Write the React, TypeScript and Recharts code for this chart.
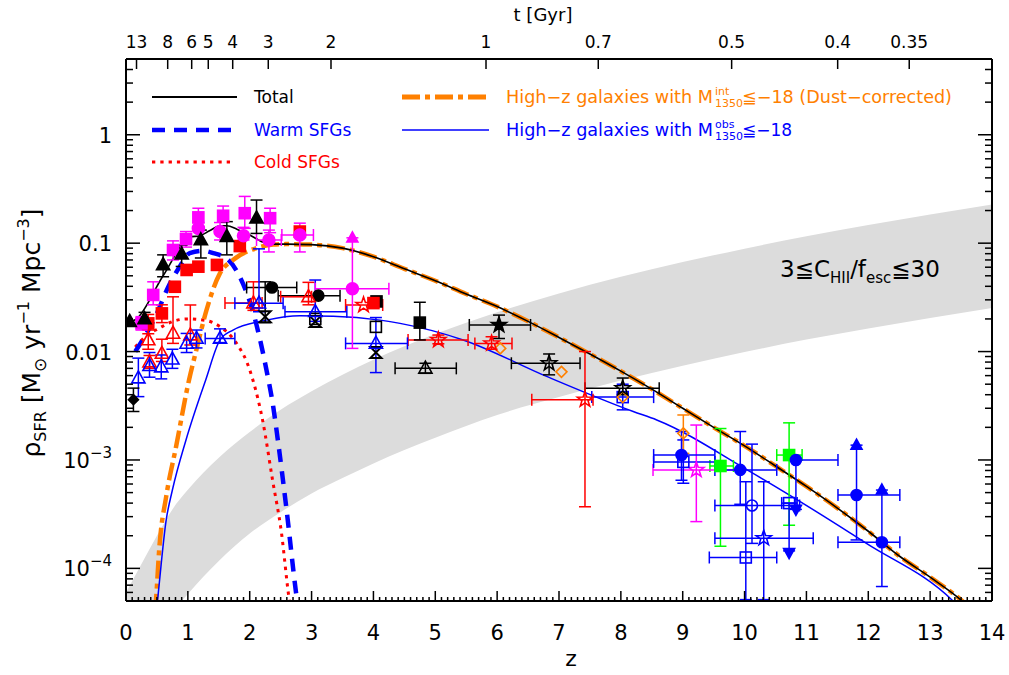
import React from 'react';
import { ComposedChart, XAxis, YAxis, Line, Area, Scatter, ErrorBar } from 'recharts';

const FONT = '"DejaVu Sans", Verdana, sans-serif';
const MAG = '#ff00ff';
const RED = '#ff0000';
const BLUE = '#0000ff';
const BLK = '#000000';
const ORG = '#ff8000';
const GRN = '#00ff00';

// ---- gray band 3 <= C_HII/f_esc <= 30 ----
const bandZ = [0, 0.25, 0.5, 0.75, 1, 1.5, 2, 2.5, 3, 3.5, 4, 5, 6, 7, 8, 9, 10, 11, 12, 13, 14];
const bandHigh = [6.0e-5, 1.1e-4, 2.0e-4, 3.5e-4, 5.3e-4, 1.05e-3, 1.81e-3, 2.9e-3, 4.3e-3, 6.1e-3, 8.4e-3, 0.0145, 0.023, 0.0344, 0.049, 0.067, 0.089, 0.116, 0.147, 0.184, 0.227];
const bandLow = [6.6e-6, 1.3e-5, 2.3e-5, 3.9e-5, 5.8e-5, 1.17e-4, 2.1e-4, 3.3e-4, 4.9e-4, 6.8e-4, 9.3e-4, 1.6e-3, 2.6e-3, 3.8e-3, 5.4e-3, 7.4e-3, 9.9e-3, 0.0129, 0.0163, 0.0204, 0.0252];

// ---- model curves ----
const totalZ = [0.05, 0.17, 0.6, 1.06, 1.17, 1.35, 1.52, 1.63, 1.8, 2.0, 2.22, 2.38, 2.6, 3.0, 3.5, 4.0, 4.5, 5.0, 5.5, 6.0, 6.5, 7.0, 7.5, 8.0, 8.5, 9.0, 9.5, 10.0, 10.5, 11.0, 11.5, 12.0, 12.5, 13.0, 13.5, 13.7];
const totalV = [0.0185, 0.020, 0.050, 0.115, 0.116, 0.13, 0.145, 0.145, 0.134, 0.119, 0.102, 0.098, 0.098, 0.097, 0.090, 0.075, 0.058, 0.045, 0.034, 0.026, 0.019, 0.0135, 0.0095, 0.0066, 0.0045, 0.0030, 0.0020, 0.00135, 0.00088, 0.00057, 0.00036, 0.00022, 0.00013, 8.3e-5, 5.1e-5, 4.0e-5];

const dustZ = [0.47, 0.485, 0.54, 0.65, 0.81, 1.02, 1.14, 1.30, 1.52, 1.73, 2.11, 2.38, 2.6, 3.0, 3.5, 4.0, 4.5, 5.0, 5.5, 6.0, 6.5, 7.0, 7.5, 8.0, 8.5, 9.0, 9.5, 10.0, 10.5, 11.0, 11.5, 12.0, 12.5, 13.0, 13.5, 13.7];
const dustV = [4.0e-5, 5.1e-5, 1.58e-4, 4.6e-4, 1.33e-3, 5.5e-3, 0.0105, 0.024, 0.053, 0.070, 0.090, 0.097, 0.098, 0.097, 0.090, 0.075, 0.058, 0.045, 0.034, 0.026, 0.019, 0.0135, 0.0095, 0.0066, 0.0045, 0.0030, 0.0020, 0.00135, 0.00088, 0.00057, 0.00036, 0.00022, 0.00013, 8.3e-5, 5.1e-5, 4.0e-5];

const warmZ = [0.15, 0.5, 0.66, 0.87, 1.03, 1.25, 1.41, 1.63, 1.84, 2.06, 2.27, 2.38, 2.45, 2.59, 2.75, 2.79];
const warmV = [0.010, 0.0225, 0.037, 0.061, 0.081, 0.085, 0.081, 0.072, 0.049, 0.0225, 0.0068, 0.0031, 0.0016, 3.7e-4, 5.9e-5, 4.0e-5];

const coldZ = [0.15, 0.36, 0.5, 0.76, 0.98, 1.30, 1.52, 1.73, 1.84, 1.95, 2.05, 2.21, 2.37, 2.51, 2.64, 2.67];
const coldV = [0.011, 0.0145, 0.016, 0.019, 0.020, 0.0193, 0.017, 0.0132, 0.0107, 0.0081, 0.0055, 0.0023, 6.5e-4, 2.2e-4, 5.1e-5, 4.0e-5];

const obsZ = [0.49, 0.51, 0.65, 0.75, 0.97, 1.29, 1.52, 1.73, 2.27, 2.81, 3.35, 4.11, 4.43, 5.45, 6.80, 8.2, 8.58, 10.09, 11.97, 13.37, 13.45];
const obsV = [4.0e-5, 5.1e-5, 2.8e-4, 5.28e-4, 1.53e-3, 5.5e-3, 0.0128, 0.0158, 0.0195, 0.0214, 0.0212, 0.0195, 0.0182, 0.0128, 0.0059, 0.0028, 0.00234, 7.8e-4, 1.7e-4, 5.0e-5, 4.5e-5];

// ---- observational points: [z, rho, zLow, zHigh, rhoLow, rhoHigh] ----
type Row = (number | null)[];
const magentaSquares: Row[] = [
  [0.25, 0.0182, null, null, 0.0158, 0.021],
  [0.44, 0.0333, null, null, 0.027, 0.044],
  [0.76, 0.0865, null, null, 0.070, 0.105],
  [0.97, 0.109, null, null, 0.092, 0.128],
  [1.17, 0.173, null, null, 0.155, 0.21],
  [1.57, 0.179, null, null, 0.157, 0.22],
  [1.92, 0.189, null, null, 0.137, 0.27],
  [2.33, 0.170, null, null, 0.125, 0.21],
];
const magentaCircles: Row[] = [
  [1.17, 0.137, null, null, 0.128, 0.155],
  [1.52, 0.128, null, null, 0.107, 0.155],
  [1.90, 0.117, null, null, 0.107, 0.14],
  [2.31, 0.107, 2.11, 2.51, 0.083, 0.132],
  [2.81, 0.119, 2.52, 3.03, 0.083, 0.153],
  [3.66, 0.038, 3.06, 4.25, 0.0107, 0.112],
];
const magentaStars: Row[] = [[9.22, 8.1e-4, 8.52, 9.93, 2.7e-4, 0.0021]];
const magentaArrowUp: Row[] = [[3.66, 0.112]];

const redSquares: Row[] = [
  [0.36, 0.0182, null, null, 0.0146, 0.022],
  [0.58, 0.0225, null, null, 0.0185, 0.027],
  [0.79, 0.0396], [0.98, 0.0566], [1.17, 0.0607], [1.47, 0.063], [1.84, 0.094], [2.81, 0.128], [4.0, 0.028],
];
const redTriangles: Row[] = [
  [0.36, 0.0128, null, null, 0.0105, 0.0158],
  [0.38, 0.0080, null, null, 0.0070, 0.0092],
  [0.58, 0.0096, null, null, 0.0081, 0.013],
  [0.76, 0.0147, null, null, 0.0119, 0.032],
  [1.04, 0.0142, null, null, 0.0115, 0.0269],
  [2.06, 0.028, 1.6, 2.2, 0.024, 0.044],
  [2.95, 0.032, 2.5, 3.0, 0.027, 0.0435],
];
const redStars: Row[] = [
  [3.84, 0.0269, 3.55, 4.15, null, null],
  [5.05, 0.0128, 4.56, 5.53, 0.0118, 0.0142],
  [5.91, 0.0119, 5.64, 6.24, 0.0105, 0.0137],
  [7.42, 0.0036, 6.56, 7.55, 3.7e-4, 0.0100],
];

const blackTriangles: Row[] = [
  [0.06, 0.0189],
  [0.30, 0.020, null, null, 0.0175, 0.023],
  [0.60, 0.063, null, null, 0.049, 0.078],
  [0.90, 0.079, null, null, 0.061, 0.096],
  [1.21, 0.107, null, null, 0.073, 0.132],
  [1.63, 0.115, null, null, 0.078, 0.158],
  [2.11, 0.170, null, null, 0.123, 0.25],
];
const blackDiamonds: Row[] = [[0.12, 0.0036, null, null, 0.0028, 0.0046]];
const blackCircles: Row[] = [[2.36, 0.039, 1.95, 2.76], [3.11, 0.0328, 2.46, 3.46]];
const blackSquares: Row[] = [[4.05, 0.029], [4.75, 0.0185, null, null, 0.0128, 0.0285]];
const blackStarsFilled: Row[] = [[6.03, 0.0176, 5.55, 6.54, 0.0132, 0.0217]];
const blackTrianglesOpen: Row[] = [[4.84, 0.0070, 4.35, 5.34, 0.0063, 0.0078]];
const blackStarsOpen: Row[] = [[6.84, 0.0078, 6.23, 7.34, 0.0061, 0.0095], [8.03, 0.0046, 7.42, 8.62, 0.0040, 0.0057]];
const blackSquaresOpen: Row[] = [[3.06, 0.0200], [4.04, 0.0169]];
const blackHourglass: Row[] = [[2.25, 0.021, null, null, 0.0185, 0.044], [3.06, 0.0189], [4.04, 0.0098]];

const orangeDiamonds: Row[] = [[6.05, 0.0107], [7.04, 0.0065], [8.03, 0.0038], [9.01, 0.00176, null, null, 0.00115, 0.0026]];

const blueTriangles: Row[] = [
  [0.20, 0.0057, null, null, 0.00384, 0.0087],
  [0.38, 0.0074, null, null, 0.0058, 0.0098],
  [0.57, 0.0072, null, null, 0.0056, 0.0093],
  [0.75, 0.0085, null, null, 0.0070, 0.0105],
  [0.98, 0.0119, null, null, 0.0098, 0.0147],
  [1.14, 0.0132, null, null, 0.0108, 0.0158],
  [1.52, 0.0132, 1.28, 1.76, 0.0121, 0.0162],
  [2.15, 0.0279, 1.76, 2.54, 0.0233, 0.0886],
  [3.06, 0.0233, 2.57, 3.57, 0.019, 0.0457],
  [4.04, 0.0119, 3.55, 4.55, 0.0064, 0.0206],
];
const blueCircles: Row[] = [
  [8.98, 0.00111, 8.53, 9.52, 6.5e-4, 0.00183],
  [9.93, 8.1e-4, 9.52, 10.52, 3.9e-4, 0.00183],
  [10.83, 0.0010, 10.83, 11.51, 3.5e-4, null],
  [11.81, 4.75e-4, 11.51, 12.51, 1.83e-4, 0.00137],
  [12.22, 1.74e-4, 11.51, 12.51, 6.8e-5, 5.28e-4],
];
const blueSquaresOpen: Row[] = [
  [8.03, 0.0038, 7.53, 8.53, 0.0029, 0.0050],
  [9.01, 9.6e-4, 8.53, 9.52, 6.1e-4, 0.00153],
  [10.02, 1.26e-4, 9.43, 10.52, 5.15e-5, 6.3e-4],
  [10.72, 4.0e-4, 10.6, 10.85, 1.45e-4, null],
];
const blueCirclesOpen: Row[] = [[10.12, 3.8e-4, 9.52, 10.89, 1.7e-4, 0.0014]];
const blueStarsOpen: Row[] = [[10.31, 1.9e-4, 9.52, 11.11, 5.15e-5, 6.3e-4]];
const blueArrowUp: Row[] = [[11.81, 0.00137], [12.22, 5.28e-4]];
const blueArrowDown: Row[] = [[10.83, 3.5e-4], [10.72, 1.4e-4]];

const greenSquares: Row[] = [
  [9.61, 8.8e-4, 9.44, 9.82, 1.6e-4, 0.00195],
  [10.72, 0.00111, 10.52, 10.93, 2.5e-4, 0.0022],
];

// ---- axes ticks ----
const xMajorTicks = [0, 1, 2, 3, 4, 5, 6, 7, 8, 9, 10, 11, 12, 13, 14];
const xAllTicks: number[] = [];
for (let i = 0; i <= 140; i++) xAllTicks.push(i / 10);
const topTickZ = [0.17, 0.674, 1.062, 1.33, 1.725, 2.3, 3.314, 5.82, 7.635, 9.791, 11.505, 12.662];
const topTickLabels = ['13', '8', '6', '5', '4', '3', '2', '1', '0.7', '0.5', '0.4', '0.35'];
const yTicks: number[] = [];
for (let k = -5; k <= 0; k++) {
  for (let m = 1; m <= 9; m++) {
    const v = Number((m * Math.pow(10, k)).toPrecision(6));
    if (v > 5.0001e-5 && v < 4.9999) yTicks.push(v);
  }
}

// ---- build tables ----
const zip = (zs: number[], vs: number[]) => zs.map((z, i) => ({ z, v: vs[i] }));
const bandData = bandZ.map((z, i) => ({ z, band: [bandLow[i], bandHigh[i]] }));
const toPts = (rows: Row[]) =>
  rows.map((r) => {
    const z = r[0] as number;
    const v = r[1] as number;
    const zl = r[2] ?? null;
    const zh = r[3] ?? null;
    const rl = r[4] ?? null;
    const rh = r[5] ?? null;
    return {
      z,
      rho: v,
      ex: zl != null && zh != null ? [z - zl, zh - z] : null,
      ey: rl != null || rh != null ? [rl != null ? v - rl : 0, rh != null ? rh - v : 0] : null,
    };
  });

type Kind = 'square' | 'circle' | 'triangle' | 'tridown' | 'diamond' | 'star' | 'hourglass';

function Marker({ cx, cy, kind, color, filled, s }: { cx: number; cy: number; kind: Kind; color: string; filled: boolean; s: number }) {
  if (cx == null || cy == null || isNaN(cx) || isNaN(cy)) return <g />;
  const fill = filled ? color : 'none';
  const sw = 1.6;
  if (kind === 'square') return <rect x={cx - s / 2} y={cy - s / 2} width={s} height={s} fill={fill} stroke={color} strokeWidth={sw} />;
  if (kind === 'circle') return <circle cx={cx} cy={cy} r={s / 2} fill={fill} stroke={color} strokeWidth={sw} />;
  if (kind === 'triangle')
    return <polygon points={`${cx},${cy - s * 0.6} ${cx + s * 0.55},${cy + s * 0.4} ${cx - s * 0.55},${cy + s * 0.4}`} fill={fill} stroke={color} strokeWidth={sw} />;
  if (kind === 'tridown')
    return <polygon points={`${cx},${cy + s * 0.6} ${cx + s * 0.55},${cy - s * 0.4} ${cx - s * 0.55},${cy - s * 0.4}`} fill={fill} stroke={color} strokeWidth={sw} />;
  if (kind === 'diamond')
    return <polygon points={`${cx},${cy - s / 2} ${cx + s / 2},${cy} ${cx},${cy + s / 2} ${cx - s / 2},${cy}`} fill={fill} stroke={color} strokeWidth={sw} />;
  if (kind === 'star') {
    const pts: string[] = [];
    for (let i = 0; i < 10; i++) {
      const a = ((-90 + i * 36) * Math.PI) / 180;
      const r = i % 2 === 0 ? s / 2 : s * 0.2;
      pts.push(`${cx + r * Math.cos(a)},${cy + r * Math.sin(a)}`);
    }
    return <polygon points={pts.join(' ')} fill={fill} stroke={color} strokeWidth={sw} />;
  }
  const h = s / 2;
  return <path d={`M${cx - h},${cy - h} L${cx + h},${cy - h} L${cx - h},${cy + h} L${cx + h},${cy + h} Z`} fill="none" stroke={color} strokeWidth={2} />;
}

const pointSets: { rows: Row[]; kind: Kind; color: string; filled: boolean; s: number }[] = [
  { rows: greenSquares, kind: 'square', color: GRN, filled: true, s: 11 },
  { rows: magentaStars, kind: 'star', color: MAG, filled: false, s: 16 },
  { rows: blueCirclesOpen, kind: 'circle', color: BLUE, filled: false, s: 11 },
  { rows: blueStarsOpen, kind: 'star', color: BLUE, filled: false, s: 16 },
  { rows: blueSquaresOpen, kind: 'square', color: BLUE, filled: false, s: 11 },
  { rows: blueCircles, kind: 'circle', color: BLUE, filled: true, s: 11 },
  { rows: blueArrowUp, kind: 'triangle', color: BLUE, filled: true, s: 10 },
  { rows: blueArrowDown, kind: 'tridown', color: BLUE, filled: true, s: 10 },
  { rows: orangeDiamonds, kind: 'diamond', color: ORG, filled: false, s: 11 },
  { rows: blackStarsOpen, kind: 'star', color: BLK, filled: false, s: 16 },
  { rows: redStars, kind: 'star', color: RED, filled: false, s: 16 },
  { rows: blackStarsFilled, kind: 'star', color: BLK, filled: true, s: 16 },
  { rows: blackTrianglesOpen, kind: 'triangle', color: BLK, filled: false, s: 12 },
  { rows: blackSquares, kind: 'square', color: BLK, filled: true, s: 11 },
  { rows: blackSquaresOpen, kind: 'square', color: BLK, filled: false, s: 11 },
  { rows: blackHourglass, kind: 'hourglass', color: BLK, filled: false, s: 11 },
  { rows: blackCircles, kind: 'circle', color: BLK, filled: true, s: 11 },
  { rows: redSquares, kind: 'square', color: RED, filled: true, s: 11 },
  { rows: redTriangles, kind: 'triangle', color: RED, filled: false, s: 12 },
  { rows: blueTriangles, kind: 'triangle', color: BLUE, filled: false, s: 12 },
  { rows: magentaSquares, kind: 'square', color: MAG, filled: true, s: 11 },
  { rows: magentaCircles, kind: 'circle', color: MAG, filled: true, s: 12 },
  { rows: magentaArrowUp, kind: 'triangle', color: MAG, filled: true, s: 10 },
  { rows: blackTriangles, kind: 'triangle', color: BLK, filled: true, s: 12 },
  { rows: blackDiamonds, kind: 'diamond', color: BLK, filled: true, s: 10 },
];

// ---- ticks ----
function BottomTick(p: any) {
  const { x, y, payload } = p;
  const v = payload.value;
  const major = Math.abs(v - Math.round(v)) < 1e-6;
  return (
    <g>
      <line x1={x} x2={x} y1={y} y2={y - (major ? 10 : 4)} stroke="#000" strokeWidth={1.5} />
      {major && xMajorTicks.includes(Math.round(v)) && (
        <text x={x} y={y + 39} textAnchor="middle" fontSize={21} fontFamily={FONT} fill="#000">
          {Math.round(v)}
        </text>
      )}
    </g>
  );
}
function TopTick(p: any) {
  const { x, y, payload } = p;
  const idx = topTickZ.indexOf(payload.value);
  return (
    <g>
      <line x1={x} x2={x} y1={y} y2={y + 10} stroke="#000" strokeWidth={1.5} />
      <text x={x} y={y - 11} textAnchor="middle" fontSize={17} fontFamily={FONT} fill="#000">
        {idx >= 0 ? topTickLabels[idx] : ''}
      </text>
    </g>
  );
}
const isDecade = (v: number) => Math.abs(Math.log10(v) - Math.round(Math.log10(v))) < 1e-6;
function LeftTick(p: any) {
  const { x, y, payload } = p;
  const v = payload.value;
  const major = isDecade(v);
  const e = Math.round(Math.log10(v));
  return (
    <g>
      <line x1={x} x2={x + (major ? 14 : 7)} y1={y} y2={y} stroke="#000" strokeWidth={1.5} />
      {major && (
        <text x={x - 14} y={y + 8} textAnchor="end" fontSize={21} fontFamily={FONT} fill="#000">
          {e >= -2 ? (
            String(v)
          ) : (
            <>
              <tspan>10</tspan>
              <tspan dy={-10} fontSize={15}>{`\u2212${-e}`}</tspan>
            </>
          )}
        </text>
      )}
    </g>
  );
}
function RightTick(p: any) {
  const { x, y, payload } = p;
  const major = isDecade(payload.value);
  return <line x1={x} x2={x - (major ? 14 : 7)} y1={y} y2={y} stroke="#000" strokeWidth={1.5} />;
}

const axisLine = { stroke: '#000', strokeWidth: 2 };

export default function App() {
  return (
    <div style={{ position: 'absolute', left: 0, top: 0, width: 1009, height: 675, background: '#fff' }}>
      <ComposedChart width={1009} height={675} margin={{ top: 29, right: 7, bottom: 44, left: 66 }}>
        <XAxis xAxisId="b" type="number" dataKey="z" domain={[0, 14]} ticks={xAllTicks} interval={0} tickSize={0} tickMargin={0} tickLine={false} tick={(p: any) => <BottomTick {...p} />} axisLine={axisLine} height={30} allowDataOverflow />
        <XAxis xAxisId="t" orientation="top" type="number" dataKey="z" domain={[0, 14]} ticks={topTickZ} interval={0} tickSize={0} tickMargin={0} tickLine={false} tick={(p: any) => <TopTick {...p} />} axisLine={axisLine} height={30} allowDataOverflow />
        <YAxis yAxisId="l" type="number" scale="log" domain={[5e-5, 5]} ticks={yTicks} interval={0} tickSize={0} tickMargin={0} tickLine={false} tick={(p: any) => <LeftTick {...p} />} axisLine={axisLine} width={60} allowDataOverflow />
        <YAxis yAxisId="r" orientation="right" type="number" scale="log" domain={[5e-5, 5]} ticks={yTicks} interval={0} tickSize={0} tickMargin={0} tickLine={false} tick={(p: any) => <RightTick {...p} />} axisLine={axisLine} width={10} allowDataOverflow />

        <Area xAxisId="b" yAxisId="l" data={bandData} dataKey="band" type="monotone" fill="#dcdcdc" fillOpacity={1} stroke="none" isAnimationActive={false} />

        <Line xAxisId="b" yAxisId="l" data={zip(coldZ, coldV)} dataKey="v" type="monotone" stroke={RED} strokeWidth={3} strokeDasharray="3.3 5" dot={false} isAnimationActive={false} />
        <Line xAxisId="b" yAxisId="l" data={zip(warmZ, warmV)} dataKey="v" type="monotone" stroke={BLUE} strokeWidth={4.5} strokeDasharray="13 9" dot={false} isAnimationActive={false} />
        <Line xAxisId="b" yAxisId="l" data={zip(dustZ, dustV)} dataKey="v" type="monotone" stroke={ORG} strokeWidth={4.5} strokeDasharray="18 5 5 5" dot={false} isAnimationActive={false} />
        <Line xAxisId="b" yAxisId="l" data={zip(obsZ, obsV)} dataKey="v" type="monotone" stroke={BLUE} strokeWidth={1.5} dot={false} isAnimationActive={false} />
        <Line xAxisId="b" yAxisId="l" data={zip(totalZ, totalV)} dataKey="v" type="monotone" stroke={BLK} strokeWidth={1.6} dot={false} isAnimationActive={false} />

        {pointSets.map((ps, i) => (
          <Scatter
            key={i}
            xAxisId="b"
            yAxisId="l"
            data={toPts(ps.rows)}
            dataKey="rho"
            isAnimationActive={false}
            shape={(p: any) => <Marker cx={p.cx} cy={p.cy} kind={ps.kind} color={ps.color} filled={ps.filled} s={ps.s} />}
          >
            <ErrorBar dataKey="ey" direction="y" width={6} stroke={ps.color} strokeWidth={1.5} isAnimationActive={false} />
            <ErrorBar dataKey="ex" direction="x" width={6} stroke={ps.color} strokeWidth={1.5} isAnimationActive={false} />
          </Scatter>
        ))}
      </ComposedChart>

      <svg width={1009} height={675} style={{ position: 'absolute', left: 0, top: 0, pointerEvents: 'none' }} fontFamily={FONT}>
        <line x1={152} x2={237} y1={97} y2={97} stroke={BLK} strokeWidth={2} />
        <text x={254} y={103} fontSize={17} fill={BLK}>Total</text>
        <line x1={152} x2={240} y1={130} y2={130} stroke={BLUE} strokeWidth={4.5} strokeDasharray="13 9" />
        <text x={254} y={136} fontSize={17} fill={BLUE}>Warm SFGs</text>
        <line x1={152} x2={235} y1={162} y2={162} stroke={RED} strokeWidth={3} strokeDasharray="3.3 5" />
        <text x={254} y={168} fontSize={17} fill={RED}>Cold SFGs</text>

        <line x1={402} x2={486} y1={97} y2={97} stroke={ORG} strokeWidth={5} strokeDasharray="18 5 5 5" />
        <text x={506} y={103} fontSize={17} fill={ORG} textLength={207} lengthAdjust="spacingAndGlyphs">High{'\u2212'}z galaxies with M</text>
        <text x={715} y={95} fontSize={11} fill={ORG}>int</text>
        <text x={715} y={107} fontSize={11} fill={ORG}>1350</text>
        <text x={742} y={103} fontSize={17} fill={ORG} textLength={210} lengthAdjust="spacingAndGlyphs">{'\u2266\u2212'}18 (Dust{'\u2212'}corrected)</text>

        <line x1={402} x2={489} y1={130} y2={130} stroke={BLUE} strokeWidth={1.5} />
        <text x={506} y={136} fontSize={17} fill={BLUE} textLength={207} lengthAdjust="spacingAndGlyphs">High{'\u2212'}z galaxies with M</text>
        <text x={715} y={128} fontSize={11} fill={BLUE}>obs</text>
        <text x={715} y={140} fontSize={11} fill={BLUE}>1350</text>
        <text x={742} y={136} fontSize={17} fill={BLUE}>{'\u2266\u2212'}18</text>

        <text x={780} y={277} fontSize={23} fill={BLK}>
          <tspan>3{'\u2266'}C</tspan>
          <tspan dy={6} fontSize={15}>HII</tspan>
          <tspan dy={-6}>/f</tspan>
          <tspan dy={6} fontSize={15}>esc</tspan>
          <tspan dy={-6}>{'\u2266'}30</tspan>
        </text>

        <text x={571} y={666} fontSize={22} textAnchor="middle" fill={BLK}>z</text>
        <text x={543} y={21} fontSize={18} textAnchor="middle" fill={BLK}>t [Gyr]</text>
        <text x={40} y={333} fontSize={25} textAnchor="middle" fill={BLK} transform="rotate(-90 40 333)">
          <tspan>{'\u03c1'}</tspan>
          <tspan dy={6} fontSize={16}>SFR</tspan>
          <tspan dy={-6}>{'  [M'}</tspan>
          <tspan dy={6} fontSize={17}>{'\u2299'}</tspan>
          <tspan dy={-6}>{' yr'}</tspan>
          <tspan dy={-11} fontSize={16}>{'\u22121'}</tspan>
          <tspan dy={11}>{'  Mpc'}</tspan>
          <tspan dy={-11} fontSize={16}>{'\u22123'}</tspan>
          <tspan dy={11}>]</tspan>
        </text>
      </svg>
    </div>
  );
}
